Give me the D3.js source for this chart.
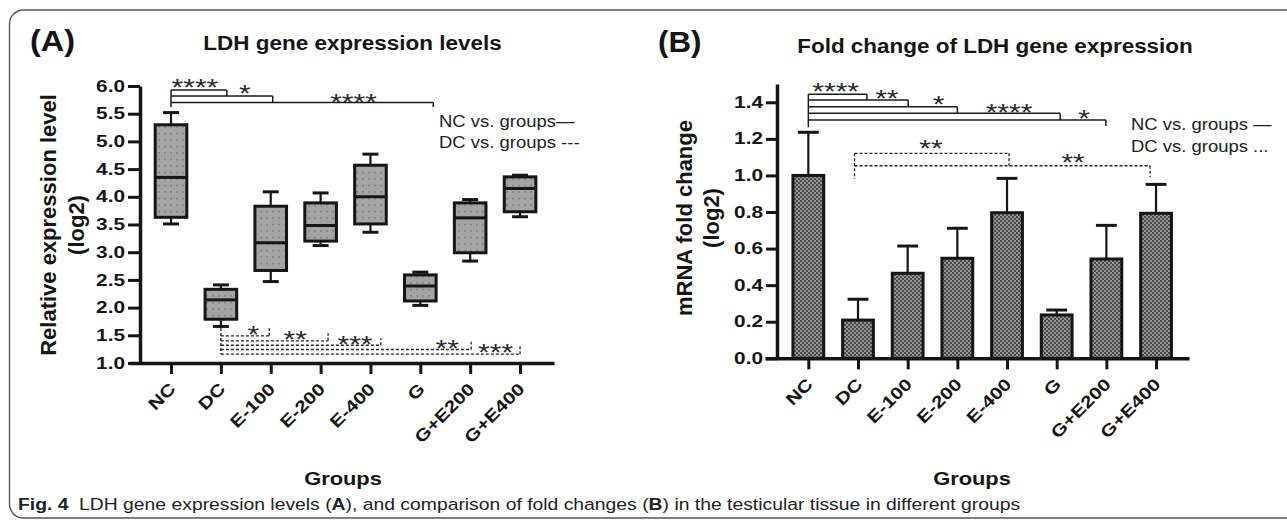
<!DOCTYPE html>
<html><head><meta charset="utf-8">
<script src="https://cdn.jsdelivr.net/npm/d3@7"></script>
<style>
html,body{margin:0;padding:0;background:#fff;}
svg{display:block;font-family:"Liberation Sans",Arial,Helvetica,sans-serif;}
</style></head>
<body><svg id="chart" width="1287" height="520"></svg>
<script>
// ---------- data ----------
const groups = ["NC","DC","E-100","E-200","E-400","G","G+E200","G+E400"];
// Panel A: box plot statistics (log2 relative expression)
const boxMin    = [3.51,1.66,2.47,3.12,3.36,2.04,2.84,3.64];
const boxQ1     = [3.63,1.79,2.67,3.20,3.51,2.12,2.99,3.73];
const boxMedian = [4.35,2.14,3.17,3.48,4.00,2.39,3.62,4.15];
const boxQ3     = [5.30,2.33,3.83,3.89,4.57,2.59,3.89,4.36];
const boxMax    = [5.52,2.41,4.09,4.07,4.77,2.64,3.95,4.39];
const ticksA    = [1.0,1.5,2.0,2.5,3.0,3.5,4.0,4.5,5.0,5.5,6.0];
// Panel B: mean fold change and SD (log2)
const foldMean = [1.00,0.209,0.465,0.547,0.796,0.237,0.543,0.793];
const foldSD   = [0.236,0.114,0.149,0.164,0.188,0.027,0.184,0.158];
const ticksB   = [0.0,0.2,0.4,0.6,0.8,1.0,1.2,1.4];
// significance brackets (x in group index units, y in data units)
const sigA_NC = {from:0, top:5.93, bottom:5.62, segs:[{to:1.12,y:5.93,y2:5.82},{to:2.04,y:5.82,y2:5.70},{to:5.26,y:5.70,y2:5.62}]};
const starsA_NC = [{s:"****",at:0.48,y:6.06},{s:"*",at:1.48,y:5.95},{s:"****",at:3.66,y:5.80}];
const sigA_DC = {from:1, top:1.63, bottom:1.16, segs:[{to:1.97,y:1.49,y2:1.627},{to:3.15,y:1.40,y2:1.536},{to:4.21,y:1.32,y2:1.445},{to:6.02,y:1.244,y2:1.385},{to:7.0,y:1.16,y2:1.307}]};
const starsA_DC = [{s:"*",at:1.65,y:1.596},{s:"**",at:2.49,y:1.52},{s:"***",at:3.69,y:1.43},{s:"**",at:5.54,y:1.36},{s:"***",at:6.51,y:1.28}];
const sigB_NC = {from:0, top:1.444, bottom:1.263, segs:[{to:1.18,y:1.444,y2:1.4125},{to:2.01,y:1.4125,y2:1.376},{to:3.0,y:1.376,y2:1.340},{to:5.07,y:1.340,y2:1.303},{to:5.99,y:1.303,y2:1.27}]};
const starsB_NC = [{s:"****",at:0.55,y:1.489},{s:"**",at:1.58,y:1.449},{s:"*",at:2.62,y:1.416},{s:"****",at:4.04,y:1.373},{s:"*",at:5.55,y:1.336}];
const sigB_DC = {from:0.93, top:1.121, bottom:0.98, segs:[{to:4.04,y:1.121,y2:1.053},{to:6.88,y:1.053,y2:0.99}]};
const starsB_DC = [{s:"**",at:2.47,y:1.172},{s:"**",at:5.33,y:1.099}];

// ---------- setup ----------
const svg = d3.select("#chart");
const INK = "#151515";
const defs = svg.append("defs");
const pA = defs.append("pattern").attr("id","dots").attr("patternUnits","userSpaceOnUse").attr("width",6).attr("height",6.5);
pA.append("rect").attr("width",6).attr("height",6.5).attr("fill","#a4a4a4");
pA.append("rect").attr("x",2.4).attr("y",2.8).attr("width",1.4).attr("height",1.4).attr("fill","#6c6c6c");
const pB = defs.append("pattern").attr("id","checker").attr("patternUnits","userSpaceOnUse").attr("width",4).attr("height",4);
pB.append("rect").attr("width",4).attr("height",4).attr("fill","#959595");
pB.append("rect").attr("width",2).attr("height",2).attr("fill","#4a4a4a");
pB.append("rect").attr("x",2).attr("y",2).attr("width",2).attr("height",2).attr("fill","#4a4a4a");

function txt(g, x, y, s, o) {
  return g.append("text")
    .attr("transform", `translate(${x},${y})` + (o.rot ? ` rotate(${o.rot})` : "") + ` scale(${o.sx || 1},1)`)
    .attr("text-anchor", o.anchor || "start")
    .attr("font-size", o.size)
    .attr("font-weight", o.weight || "normal")
    .attr("fill", o.fill || INK)
    .text(s);
}

// frame
svg.append("rect").attr("x",9.5).attr("y",10).attr("width",1330).attr("height",508).attr("rx",14)
  .attr("fill","none").attr("stroke","#555").attr("stroke-width",1.4);

function styleAxis(g) {
  g.select(".domain").attr("stroke",INK).attr("stroke-width",3.5);
  g.selectAll(".tick line").attr("stroke",INK).attr("stroke-width",3);
  g.attr("font-family",null).attr("font-size",null);
}

function drawBrackets(g, xi, y, b, dashed) {
  const st = g.append("g").attr("fill","none").attr("stroke", dashed ? "#222" : "#1a1a1a")
    .attr("stroke-width", dashed ? 1.3 : 1.5);
  if (dashed) st.attr("stroke-dasharray","3,2");
  st.append("line").attr("x1",xi(b.from)).attr("x2",xi(b.from)).attr("y1",y(b.top)).attr("y2",y(b.bottom));
  b.segs.forEach(s => {
    st.append("line").attr("x1",xi(b.from)).attr("x2",xi(s.to)).attr("y1",y(s.y)).attr("y2",y(s.y));
    st.append("line").attr("x1",xi(s.to)).attr("x2",xi(s.to)).attr("y1",y(s.y)).attr("y2",y(s.y2));
  });
}
function drawStars(g, xi, y, stars) {
  stars.forEach(s => txt(g, xi(s.at), y(s.y) + 13.5, s.s, {size:24, sx:1.25, anchor:"middle", fill:"#2a2a2a"}));
}

// ---------- Panel A ----------
const gA = svg.append("g");
const yA = d3.scaleLinear().domain([1,6]).range([363,86]);
const xA = d3.scalePoint().domain(groups).range([129,554]).padding(0.762).align(0.553);
const xiA = d3.scaleLinear().domain([0,groups.length-1]).range([xA(groups[0]), xA(groups[groups.length-1])]);
const bwA = xA.step()*0.634, capA = xA.step()*0.32;

groups.forEach((gname,i) => {
  const cx = xA(gname);
  const b = gA.append("g");
  b.append("line").attr("x1",cx).attr("x2",cx).attr("y1",yA(boxMax[i])).attr("y2",yA(boxQ3[i])).attr("stroke",INK).attr("stroke-width",2.2);
  b.append("line").attr("x1",cx).attr("x2",cx).attr("y1",yA(boxQ1[i])).attr("y2",yA(boxMin[i])).attr("stroke",INK).attr("stroke-width",2.2);
  b.append("line").attr("x1",cx-capA/2).attr("x2",cx+capA/2).attr("y1",yA(boxMax[i])).attr("y2",yA(boxMax[i])).attr("stroke",INK).attr("stroke-width",3);
  b.append("line").attr("x1",cx-capA/2).attr("x2",cx+capA/2).attr("y1",yA(boxMin[i])).attr("y2",yA(boxMin[i])).attr("stroke",INK).attr("stroke-width",3);
  b.append("rect").attr("x",cx-bwA/2).attr("width",bwA).attr("y",yA(boxQ3[i])).attr("height",yA(boxQ1[i])-yA(boxQ3[i]))
    .attr("fill","url(#dots)").attr("stroke",INK).attr("stroke-width",3);
  b.append("line").attr("x1",cx-bwA/2).attr("x2",cx+bwA/2).attr("y1",yA(boxMedian[i])).attr("y2",yA(boxMedian[i])).attr("stroke",INK).attr("stroke-width",3);
});

const axYA = gA.append("g").attr("transform","translate(140,0)")
  .call(d3.axisLeft(yA).tickValues(ticksA).tickSize(12).tickSizeOuter(0).tickFormat(d3.format(".1f")));
styleAxis(axYA);
axYA.selectAll(".tick text").attr("x",null).attr("transform","translate(-15,0) scale(1.3,1)")
  .attr("font-size",16).attr("font-weight","bold").attr("fill",INK);

const axXA = gA.append("g").attr("transform","translate(0,363)")
  .call(d3.axisBottom(xA).tickSize(11).tickSizeOuter(0));
styleAxis(axXA);
axXA.selectAll(".tick text").attr("x",0).attr("y",0).attr("dy",0).attr("text-anchor","end")
  .attr("transform","translate(5,27) rotate(-45) scale(1.22,1)")
  .attr("font-size",17).attr("font-weight","bold").attr("fill",INK);

drawBrackets(gA, xiA, yA, sigA_NC, false);
drawBrackets(gA, xiA, yA, sigA_DC, true);
drawStars(gA, xiA, yA, starsA_NC);
drawStars(gA, xiA, yA, starsA_DC);

txt(gA, 30, 51, "(A)", {size:29, weight:"bold", sx:1.12});
txt(gA, 352.5, 50, "LDH gene expression levels", {size:21, weight:"bold", sx:1.07, anchor:"middle"});
txt(gA, 56, 225, "Relative expression level", {size:22, weight:"bold", rot:-90, anchor:"middle"});
txt(gA, 84, 225, "(log2)", {size:22, weight:"bold", rot:-90, anchor:"middle"});
txt(gA, 343, 485, "Groups", {size:19, weight:"bold", sx:1.15, anchor:"middle"});
txt(gA, 439, 127, "NC vs. groups\u2014", {size:16.5, sx:1.12, fill:"#222"});
txt(gA, 439, 148, "DC vs. groups ---", {size:16.5, sx:1.12, fill:"#222"});

// ---------- Panel B ----------
const gB = svg.append("g");
const yB = d3.scaleLinear().domain([0,1.5]).range([358.3,84]);
const xB = d3.scalePoint().domain(groups).range([765,1189]).padding(0.768).align(0.568);
const xiB = d3.scaleLinear().domain([0,groups.length-1]).range([xB(groups[0]), xB(groups[groups.length-1])]);
const bwB = xB.step()*0.62, capB = xB.step()*0.42;

groups.forEach((gname,i) => {
  const cx = xB(gname);
  const b = gB.append("g");
  const top = foldMean[i] + foldSD[i];
  b.append("line").attr("x1",cx).attr("x2",cx).attr("y1",yB(top)).attr("y2",yB(foldMean[i])).attr("stroke",INK).attr("stroke-width",2.2);
  b.append("line").attr("x1",cx-capB/2).attr("x2",cx+capB/2).attr("y1",yB(top)).attr("y2",yB(top)).attr("stroke",INK).attr("stroke-width",3);
  b.append("rect").attr("x",cx-bwB/2).attr("width",bwB).attr("y",yB(foldMean[i])).attr("height",yB(0)-yB(foldMean[i]))
    .attr("fill","url(#checker)").attr("stroke",INK).attr("stroke-width",3);
});

const axYB = gB.append("g").attr("transform","translate(777,0)")
  .call(d3.axisLeft(yB).tickValues(ticksB).tickSize(11).tickSizeOuter(0).tickFormat(d3.format(".1f")));
styleAxis(axYB);
axYB.selectAll(".tick text").attr("x",null).attr("transform","translate(-14,0) scale(1.3,1)")
  .attr("font-size",16).attr("font-weight","bold").attr("fill",INK);

const axXB = gB.append("g").attr("transform","translate(0,358.3)")
  .call(d3.axisBottom(xB).tickSize(11).tickSizeOuter(0));
styleAxis(axXB);
axXB.selectAll(".tick text").attr("x",0).attr("y",0).attr("dy",0).attr("text-anchor","end")
  .attr("transform","translate(5,27) rotate(-45) scale(1.22,1)")
  .attr("font-size",17).attr("font-weight","bold").attr("fill",INK);

drawBrackets(gB, xiB, yB, sigB_NC, false);
drawBrackets(gB, xiB, yB, sigB_DC, true);
drawStars(gB, xiB, yB, starsB_NC);
drawStars(gB, xiB, yB, starsB_DC);

txt(gB, 658, 52, "(B)", {size:29, weight:"bold", sx:1.08});
txt(gB, 995, 53, "Fold change of LDH gene expression", {size:21, weight:"bold", sx:1.07, anchor:"middle"});
txt(gB, 692, 218, "mRNA fold change", {size:22, weight:"bold", rot:-90, anchor:"middle"});
txt(gB, 719, 218, "(log2)", {size:22, weight:"bold", rot:-90, anchor:"middle"});
txt(gB, 972, 485, "Groups", {size:19, weight:"bold", sx:1.15, anchor:"middle"});
txt(gB, 1131, 130, "NC vs. groups \u2014", {size:16.5, sx:1.12, fill:"#222"});
txt(gB, 1131, 151.7, "DC vs. groups ...", {size:16.5, sx:1.12, fill:"#222"});

// ---------- caption ----------
const cap = svg.append("text").attr("x",0).attr("y",0).attr("font-size",16.5).attr("fill","#222");
cap.append("tspan").attr("font-weight","bold").text("Fig. 4");
cap.append("tspan").attr("dx",9).text("LDH gene expression levels (");
cap.append("tspan").attr("font-weight","bold").text("A");
cap.append("tspan").text("), and comparison of fold changes (");
cap.append("tspan").attr("font-weight","bold").text("B");
cap.append("tspan").text(") in the testicular tissue in different groups");
const cw = cap.node().getComputedTextLength();
cap.attr("transform", `translate(18,510) scale(${992/cw},1)`);
</script>
</body></html>
